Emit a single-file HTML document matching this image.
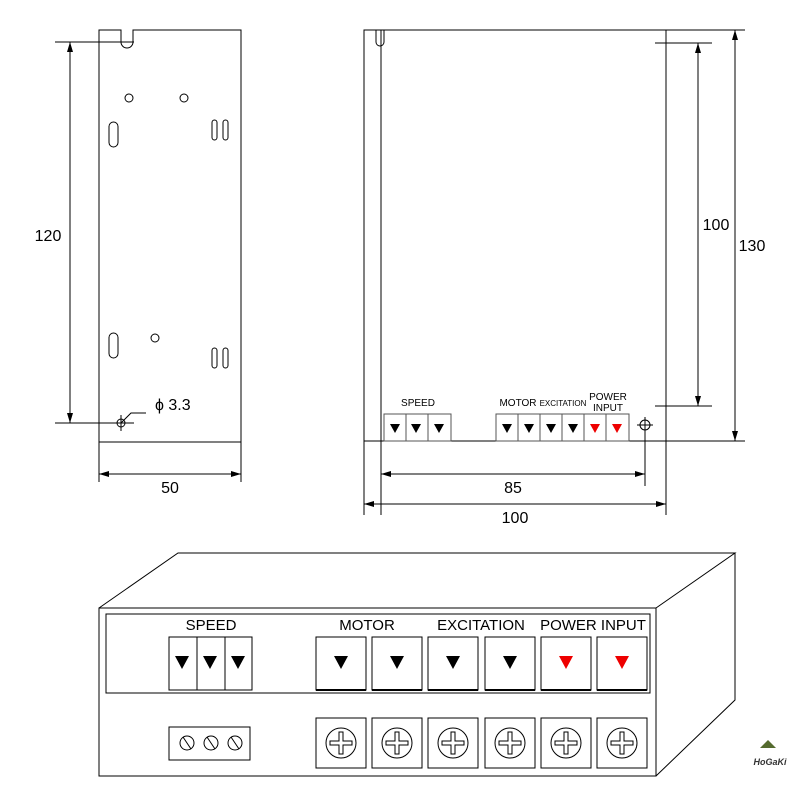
<!DOCTYPE html>
<html><head><meta charset="utf-8"><style>body{margin:0;background:#fff}svg{display:block}</style></head><body>
<svg width="800" height="786" viewBox="0 0 800 786" xmlns="http://www.w3.org/2000/svg" font-family="Liberation Sans, sans-serif">
<defs>
<marker id="a" viewBox="0 0 10 6" refX="10" refY="3" markerWidth="10" markerHeight="6" orient="auto-start-reverse"><path d="M0,0L10,3L0,6z" fill="#000"/></marker>
<g id="scr"><rect x="-25" y="-25" width="50" height="50" fill="#fff" stroke="#000"/><circle r="15" fill="#fff" stroke="#000"/><path d="M-11,-2h9v-9h4v9h9v4h-9v9h-4v-9h-9z" fill="#fff" stroke="#000"/></g>
</defs>
<g fill="none" stroke="#000" stroke-width="1">
<!-- left view -->
<path d="M99,30H121V42a6,6 0 0 0 12,0V30H241V442H99Z"/>
<circle cx="129" cy="98" r="4"/><circle cx="184" cy="98" r="4"/><circle cx="155" cy="338" r="4"/>
<rect x="109" y="122" width="9" height="25" rx="4.5"/><rect x="109" y="333" width="9" height="25" rx="4.5"/>
<rect x="212" y="120" width="5" height="20" rx="2.5"/><rect x="223" y="120" width="5" height="20" rx="2.5"/>
<rect x="212" y="348" width="5" height="20" rx="2.5"/><rect x="223" y="348" width="5" height="20" rx="2.5"/>
<path d="M55,42H134M55,423H134"/>
<line x1="70" y1="42" x2="70" y2="423" marker-start="url(#a)" marker-end="url(#a)"/>
<circle cx="121" cy="423" r="4"/><path d="M121,415V431M113,423H129M121,423L131,413H146"/>
<path d="M99,442V482M241,442V482"/>
<line x1="99" y1="474" x2="241" y2="474" marker-start="url(#a)" marker-end="url(#a)"/>
<!-- right view -->
<rect x="364" y="30" width="302" height="411"/>
<path d="M376,30V42a4,4 0 0 0 8,0V30"/><path d="M381,30V515"/>
<path d="M655,43H712M655,406H712M666,30H745M666,441H745"/>
<line x1="698" y1="43" x2="698" y2="406" marker-start="url(#a)" marker-end="url(#a)"/>
<line x1="735" y1="30" x2="735" y2="441" marker-start="url(#a)" marker-end="url(#a)"/>
<circle cx="645" cy="425" r="5"/><path d="M645,417V486M637,425H653M364,441V515M666,441V515"/>
<line x1="381" y1="474" x2="645" y2="474" marker-start="url(#a)" marker-end="url(#a)"/>
<line x1="364" y1="504" x2="666" y2="504" marker-start="url(#a)" marker-end="url(#a)"/>
<g stroke="#555"><rect x="384" y="414" width="22" height="27"/><rect x="406" y="414" width="22" height="27"/><rect x="428" y="414" width="23" height="27"/>
<rect x="496" y="414" width="22" height="27"/><rect x="518" y="414" width="22" height="27"/><rect x="540" y="414" width="22" height="27"/><rect x="562" y="414" width="22" height="27"/><rect x="584" y="414" width="22" height="27"/><rect x="606" y="414" width="23" height="27"/></g>
<!-- box 3D -->
<path d="M99,608L178,553H735L656,608M656,776L735,700V553"/>
<rect x="99" y="608" width="557" height="168"/>
<rect x="106" y="614" width="544" height="79"/>
<rect x="169" y="637" width="28" height="53"/><rect x="197" y="637" width="28" height="53"/><rect x="225" y="637" width="27" height="53"/>
<rect x="169" y="727" width="81" height="33"/>
<g><circle cx="187" cy="743" r="7"/><circle cx="211" cy="743" r="7"/><circle cx="235" cy="743" r="7"/><path d="M183,737L191,749M207,737L215,749M231,737L239,749"/></g>
</g>
<g stroke="#000" fill="#fff">
<rect x="316" y="637" width="50" height="53"/><rect x="372" y="637" width="50" height="53"/><rect x="428" y="637" width="50" height="53"/><rect x="485" y="637" width="50" height="53"/><rect x="541" y="637" width="50" height="53"/><rect x="597" y="637" width="50" height="53"/>
</g>
<path d="M316,690H366M372,690H422M428,690H478M485,690H535M541,690H591M597,690H647" stroke="#000" stroke-width="2"/>
<use href="#scr" x="341" y="743"/><use href="#scr" x="397" y="743"/><use href="#scr" x="453" y="743"/><use href="#scr" x="510" y="743"/><use href="#scr" x="566" y="743"/><use href="#scr" x="622" y="743"/>
<g fill="#000">
<path d="M175,656h14l-7,13z M203,656h14l-7,13z M231,656h14l-7,13z"/>
<path d="M334,656h14l-7,13z M390,656h14l-7,13z M446,656h14l-7,13z M503,656h14l-7,13z"/>
<path d="M390,424h10l-5,9z M411,424h10l-5,9z M434,424h10l-5,9z M502,424h10l-5,9z M524,424h10l-5,9z M546,424h10l-5,9z M568,424h10l-5,9z"/>
</g>
<g fill="#e00"><path d="M559,656h14l-7,13z M615,656h14l-7,13z M590,424h10l-5,9z M612,424h10l-5,9z"/></g>
<g font-size="16" text-anchor="middle" fill="#000">
<text x="48" y="241">120</text><text x="170" y="493">50</text>
<text x="716" y="230">100</text><text x="752" y="251">130</text>
<text x="513" y="493">85</text><text x="515" y="523">100</text>
<text x="155" y="410" text-anchor="start">ϕ 3.3</text>
<text x="211" y="630" font-size="15">SPEED</text><text x="367" y="630" font-size="15">MOTOR</text><text x="481" y="630" font-size="15">EXCITATION</text><text x="593" y="630" font-size="15">POWER INPUT</text>
<text x="418" y="406" font-size="10">SPEED</text><text x="518" y="406" font-size="10">MOTOR</text><text x="563" y="406" font-size="8">EXCITATION</text>
<text x="608" y="400" font-size="10">POWER</text><text x="608" y="411" font-size="10">INPUT</text>
<text x="770" y="765" font-size="9" font-style="italic" font-weight="bold" fill="#333">HoGaKi</text>
</g>
<path d="M760,748l8,-8l8,8" fill="#556b2f"/>
</svg>
</body></html>
